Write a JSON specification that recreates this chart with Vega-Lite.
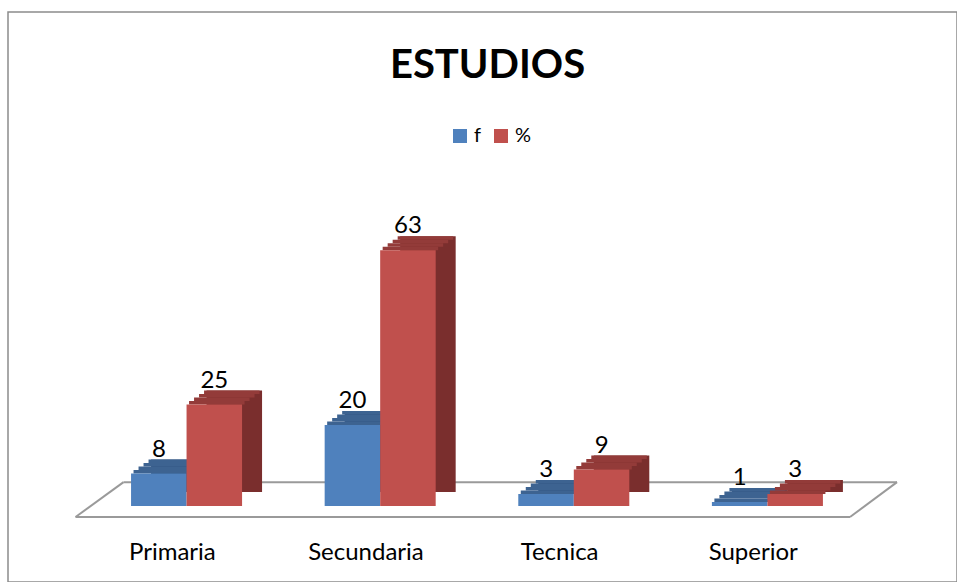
{
  "$schema": "https://vega.github.io/schema/vega-lite/v6.json",
  "width": 949,
  "height": 570,
  "autosize": {"type": "none"},
  "padding": {"left": 8, "top": 12, "right": 0, "bottom": 0},
  "background": "white",
  "config": {
    "view": {"stroke": "#8c8c8c", "strokeWidth": 1.5},
    "font": "Lato"
  },
  "title": {
    "text": "ESTUDIOS",
    "font": "Lato",
    "fontSize": 40,
    "fontWeight": "bold",
    "anchor": "middle",
    "offset": -106,
    "baseline": "alphabetic",
    "dx": 5,
    "color": "black"
  },
  "data": {
    "values": [
      {"cat": "Primaria", "serie": "f", "value": 8},
      {"cat": "Primaria", "serie": "%", "value": 25},
      {"cat": "Secundaria", "serie": "f", "value": 20},
      {"cat": "Secundaria", "serie": "%", "value": 63},
      {"cat": "Tecnica", "serie": "f", "value": 3},
      {"cat": "Tecnica", "serie": "%", "value": 9},
      {"cat": "Superior", "serie": "f", "value": 1},
      {"cat": "Superior", "serie": "%", "value": 3}
    ]
  },
  "resolve": {"scale": {"xOffset": "independent"}},
  "layer": [
    {
      "data": {"values": [{}]},
      "mark": {"type": "rule", "stroke": "#9a9a9a", "strokeWidth": 2},
      "encoding": {
        "x": {"datum": "Primaria", "bandPosition": 0, "type": "nominal", "scale": {"type": "band", "domain": ["Primaria", "Secundaria", "Tecnica", "Superior"], "paddingInner": 0, "paddingOuter": 0.4507, "align": 0.387}, "axis": null},
        "x2": {"datum": "Superior", "bandPosition": 1},
        "y": {"datum": -2.7, "type": "quantitative", "scale": {"domain": [-18.7, 121.7], "nice": false, "zero": false}, "axis": null}
      }
    },
    {
      "data": {"values": [{}]},
      "mark": {"type": "rule", "stroke": "#9a9a9a", "strokeWidth": 2, "xOffset": 48, "x2Offset": 47},
      "encoding": {
        "x": {"datum": "Primaria", "bandPosition": 0, "type": "nominal"},
        "x2": {"datum": "Superior", "bandPosition": 1},
        "y": {"datum": 5.9, "type": "quantitative"}
      }
    },
    {
      "data": {"values": [{}]},
      "mark": {"type": "rule", "stroke": "#9a9a9a", "strokeWidth": 2, "x2Offset": 48},
      "encoding": {
        "x": {"datum": "Primaria", "bandPosition": 0, "type": "nominal"},
        "x2": {"datum": "Primaria", "bandPosition": 0},
        "y": {"datum": -2.7, "type": "quantitative"},
        "y2": {"datum": 5.9}
      }
    },
    {
      "data": {"values": [{}]},
      "mark": {"type": "rule", "stroke": "#9a9a9a", "strokeWidth": 2, "x2Offset": 47},
      "encoding": {
        "x": {"datum": "Superior", "bandPosition": 1, "type": "nominal"},
        "x2": {"datum": "Superior", "bandPosition": 1},
        "y": {"datum": -2.7, "type": "quantitative"},
        "y2": {"datum": 5.9}
      }
    },
    {
      "mark": {"type": "bar", "yOffset": -14, "y2Offset": -14},
      "encoding": {
        "x": {"field": "cat", "type": "nominal", "sort": null},
        "xOffset": {"field": "serie", "type": "nominal", "scale": {"domain": ["f", "%"], "paddingInner": 0, "paddingOuter": 0.744, "align": 0.914}},
        "y": {"field": "value", "type": "quantitative"},
        "color": {"condition": {"test": "datum.serie === 'f'", "value": "#2f4f77"}, "value": "#7a2e2d"}
      }
    },
    {
      "mark": {"type": "bar", "yOffset": -14, "y2Offset": -10.5},
      "encoding": {
        "x": {"field": "cat", "type": "nominal", "sort": null},
        "xOffset": {"field": "serie", "type": "nominal", "scale": {"domain": ["f", "%"], "paddingInner": 0, "paddingOuter": 0.744, "align": 0.8838}},
        "y": {"field": "value", "type": "quantitative"},
        "y2": {"field": "value"},
        "color": {"condition": {"test": "datum.serie === 'f'", "value": "#3d6391"}, "value": "#933b39"}
      }
    },
    {
      "mark": {"type": "bar", "yOffset": -10.5, "y2Offset": -7},
      "encoding": {
        "x": {"field": "cat", "type": "nominal", "sort": null},
        "xOffset": {"field": "serie", "type": "nominal", "scale": {"domain": ["f", "%"], "paddingInner": 0, "paddingOuter": 0.744, "align": 0.8232}},
        "y": {"field": "value", "type": "quantitative"},
        "y2": {"field": "value"},
        "color": {"condition": {"test": "datum.serie === 'f'", "value": "#3d6391"}, "value": "#933b39"}
      }
    },
    {
      "mark": {"type": "bar", "yOffset": -7, "y2Offset": -3.5},
      "encoding": {
        "x": {"field": "cat", "type": "nominal", "sort": null},
        "xOffset": {"field": "serie", "type": "nominal", "scale": {"domain": ["f", "%"], "paddingInner": 0, "paddingOuter": 0.744, "align": 0.7627}},
        "y": {"field": "value", "type": "quantitative"},
        "y2": {"field": "value"},
        "color": {"condition": {"test": "datum.serie === 'f'", "value": "#3d6391"}, "value": "#933b39"}
      }
    },
    {
      "mark": {"type": "bar", "yOffset": -3.5, "y2Offset": 0},
      "encoding": {
        "x": {"field": "cat", "type": "nominal", "sort": null},
        "xOffset": {"field": "serie", "type": "nominal", "scale": {"domain": ["f", "%"], "paddingInner": 0, "paddingOuter": 0.744, "align": 0.7022}},
        "y": {"field": "value", "type": "quantitative"},
        "y2": {"field": "value"},
        "color": {"condition": {"test": "datum.serie === 'f'", "value": "#3d6391"}, "value": "#933b39"}
      }
    },
    {
      "mark": {"type": "bar"},
      "encoding": {
        "x": {"field": "cat", "type": "nominal", "sort": null},
        "xOffset": {"field": "serie", "type": "nominal", "scale": {"domain": ["f", "%"], "paddingInner": 0, "paddingOuter": 0.744, "align": 0.672}},
        "y": {"field": "value", "type": "quantitative"},
        "color": {
          "field": "serie",
          "type": "nominal",
          "scale": {"domain": ["f", "%"], "range": ["#4f81bd", "#c0504d"]},
          "legend": {
            "orient": "none",
            "legendX": 442,
            "legendY": 114,
            "direction": "horizontal",
            "title": null,
            "symbolType": "square",
            "symbolSize": 196,
            "symbolStrokeWidth": 0,
            "labelFont": "Lato",
            "labelFontSize": 20,
            "labelColor": "black",
            "columnPadding": 9,
            "labelOffset": 4,
            "padding": 0
          }
        }
      }
    },
    {
      "transform": [{"filter": "datum.serie === 'f'"}],
      "mark": {"type": "text", "font": "Lato", "fontSize": 24, "color": "black", "baseline": "alphabetic", "dy": -17, "dx": -13.5},
      "encoding": {
        "x": {"field": "cat", "type": "nominal", "sort": null},
        "y": {"field": "value", "type": "quantitative"},
        "text": {"field": "value", "type": "quantitative"}
      }
    },
    {
      "transform": [{"filter": "datum.serie === '%'"}],
      "mark": {"type": "text", "font": "Lato", "fontSize": 24, "color": "black", "baseline": "alphabetic", "dy": -17, "dx": 42},
      "encoding": {
        "x": {"field": "cat", "type": "nominal", "sort": null},
        "y": {"field": "value", "type": "quantitative"},
        "text": {"field": "value", "type": "quantitative"}
      }
    },
    {
      "transform": [{"filter": "datum.serie === 'f'"}],
      "mark": {"type": "text", "font": "Lato", "fontSize": 24, "color": "black", "baseline": "alphabetic"},
      "encoding": {
        "x": {"field": "cat", "type": "nominal", "sort": null},
        "y": {"datum": -13.3, "type": "quantitative"},
        "text": {"field": "cat", "type": "nominal"}
      }
    }
  ]
}
